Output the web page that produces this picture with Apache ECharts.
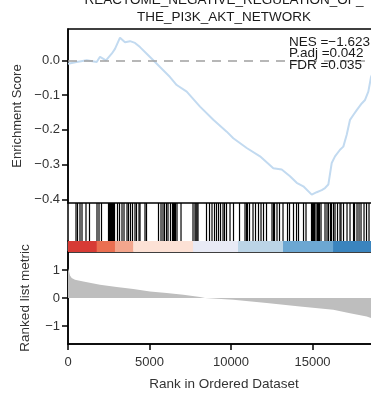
<!DOCTYPE html>
<html>
<head>
<meta charset="utf-8">
<script src="https://cdn.jsdelivr.net/npm/echarts@6/dist/echarts.min.js"></script>
<style>
  html, body { margin: 0; padding: 0; background: #fff; }
  #chart { width: 371px; height: 394px; }
</style>
</head>
<body>
<div id="chart"></div>
<script>
// 富集曲线 (rank, running enrichment score)
const esRank = [0, 534, 1147, 1761, 1963, 2331, 2681, 2883, 3190, 3497, 3804, 4110, 4417, 4828, 5233, 5644, 6258, 6669, 7283, 8098, 8914, 9736, 10141, 10963, 11779, 12595, 13110, 13620, 14031, 14436, 14951, 15258, 15565, 15767, 15970, 16178, 16380, 16687, 16890, 17098, 17301, 17503, 17712, 18018, 18221, 18424, 18589, 18835, 19140];
const esValue = [-0.01, -0.005, 0.0, -0.005, 0.01, 0.0, 0.019, 0.033, 0.065, 0.052, 0.055, 0.05, 0.038, 0.019, 0.0, -0.019, -0.048, -0.071, -0.09, -0.133, -0.171, -0.205, -0.224, -0.252, -0.276, -0.31, -0.314, -0.333, -0.352, -0.362, -0.386, -0.379, -0.373, -0.367, -0.357, -0.295, -0.276, -0.257, -0.248, -0.214, -0.171, -0.157, -0.143, -0.124, -0.114, -0.09, -0.048, -0.02, 0.0];

// 基因集命中位置
const hitRanks = [491, 583, 736, 859, 1104, 1319, 1779, 1902, 2055, 2485, 2546, 2607, 2669, 2730, 2791, 2853, 3037, 3160, 3313, 3436, 3620, 3712, 3834, 3957, 4110, 4202, 4356, 4417, 4724, 4816, 5552, 5706, 5828, 5920, 6043, 6135, 6288, 6411, 6472, 6534, 6595, 6687, 6933, 7669, 7791, 7853, 7914, 7975, 8497, 8681, 8834, 8988, 9110, 9233, 9356, 9509, 9601, 9724, 9939, 10153, 10522, 10859, 10951, 11012, 11135, 11350, 11503, 11687, 11841, 11994, 12178, 12515, 12607, 12669, 12822, 12975, 13190, 13467, 13589, 13834, 14019, 14141, 14448, 14601, 14939, 15000, 15061, 15123, 15215, 15307, 15368, 15429, 15522, 15767, 15890, 15982, 16104, 16166, 16288, 16380, 16534, 16687, 16749, 16902, 17117, 17301, 17516, 17577, 17730, 17853, 17976, 18160, 18313, 18466, 18650, 18800, 18950];

// 排序指标
const metricRank = [0, 61, 123, 227, 429, 939, 1963, 2988, 4006, 5031, 6055, 7074, 8098, 8405, 10141, 12190, 14233, 16276, 17301, 18325, 18589, 18896, 19140];
const metricValue = [1.05, 0.95, 0.8, 0.71, 0.65, 0.59, 0.475, 0.39, 0.32, 0.235, 0.18, 0.12, 0.036, 0, -0.06, -0.18, -0.3, -0.42, -0.54, -0.66, -0.71, -0.85, -1.1];

// 颜色条分段
const colorBreaks = [0, 1760, 2880, 4000, 7670, 10430, 13190, 16260, 19140];
const palette = ['#D73B35', '#EA6F51', '#F3A68D', '#FCE1D5', '#E8EAF5', '#BBD4E6', '#6CA7D2', '#3A84BE'];

const esTicks = [0, -0.1, -0.2, -0.3, -0.4];
const metricTicks = [-1, 0, 1];
const rankTicks = [0, 5000, 10000, 15000];
const xMax = 19140;

const font = 'Liberation Sans, Arial, sans-serif';
const minus = v => String(v).replace('-', '\u2212');

const chart = echarts.init(document.getElementById('chart'));

const hiddenX = idx => ({
  type: 'value', gridIndex: idx, min: 0, max: xMax,
  axisLine: { show: false, onZero: false }, axisTick: { show: false },
  axisLabel: { show: false }, splitLine: { show: false }
});

const gridBase = { left: 68, width: 312, outerBoundsMode: 'none', containLabel: false };

const option = {
  animation: false,
  title: {
    text: 'REACTOME_NEGATIVE_REGULATION_OF_\nTHE_PI3K_AKT_NETWORK',
    left: 224, top: -8, padding: 0, textAlign: 'center',
    textStyle: { fontFamily: font, fontSize: 13.5, fontWeight: 'normal', color: '#1a1a1a', lineHeight: 17 }
  },
  grid: [
    Object.assign({ top: 29, height: 174, show: true, borderColor: '#000', borderWidth: 1.5 }, gridBase),
    Object.assign({ top: 203, height: 38 }, gridBase),
    Object.assign({ top: 241, height: 11 }, gridBase),
    Object.assign({ top: 252, height: 92, show: true, borderColor: '#000', borderWidth: 1.5 }, gridBase)
  ],
  xAxis: [
    hiddenX(0), hiddenX(1), hiddenX(2),
    {
      type: 'value', gridIndex: 3, min: 0, max: xMax,
      name: 'Rank in Ordered Dataset', nameLocation: 'middle', nameGap: 33,
      nameTextStyle: { fontFamily: font, fontSize: 13.5, color: '#333' },
      axisLine: { show: true, onZero: false, lineStyle: { color: '#000', width: 1.5 } },
      axisTick: { show: true, length: 6, lineStyle: { color: '#000', width: 1.5 }, customValues: rankTicks },
      axisLabel: { fontFamily: font, fontSize: 13, color: '#333', margin: 12, customValues: rankTicks,
        formatter: v => String(v) },
      splitLine: { show: false }
    }
  ],
  yAxis: [
    {
      type: 'value', gridIndex: 0, min: -0.41, max: 0.09,
      name: 'Enrichment Score', nameLocation: 'middle', nameGap: 44,
      nameTextStyle: { fontFamily: font, fontSize: 13, color: '#333' },
      axisLine: { show: true, onZero: false, lineStyle: { color: '#000', width: 1.5 } },
      axisTick: { show: true, length: 6, lineStyle: { color: '#000', width: 1.5 }, customValues: esTicks },
      axisLabel: { fontFamily: font, fontSize: 13, color: '#333', margin: 8, customValues: esTicks,
        formatter: v => minus(v.toFixed(1)) },
      splitLine: { show: false }
    },
    {
      type: 'value', gridIndex: 1, min: 0, max: 1,
      axisLine: { show: true, onZero: false, lineStyle: { color: '#000', width: 1.5 } },
      axisTick: { show: false }, axisLabel: { show: false }, splitLine: { show: false }
    },
    {
      type: 'value', gridIndex: 2, min: 0, max: 1,
      axisLine: { show: true, onZero: false, lineStyle: { color: '#000', width: 1.5 } },
      axisTick: { show: false }, axisLabel: { show: false }, splitLine: { show: false }
    },
    {
      type: 'value', gridIndex: 3, min: -1.64, max: 1.64,
      name: 'Ranked list metric', nameLocation: 'middle', nameGap: 36,
      nameTextStyle: { fontFamily: font, fontSize: 13.5, color: '#333' },
      axisLine: { show: true, onZero: false, lineStyle: { color: '#000', width: 1.5 } },
      axisTick: { show: true, length: 6, lineStyle: { color: '#000', width: 1.5 }, customValues: metricTicks },
      axisLabel: { fontFamily: font, fontSize: 13, color: '#333', margin: 8, customValues: metricTicks,
        formatter: v => minus(v) },
      splitLine: { show: false }
    }
  ],
  graphic: [{
    type: 'text', right: 1, top: 35, z: 100,
    style: {
      text: 'NES =\u22121.623\nP.adj =0.042\nFDR =0.035',
      fontFamily: font, fontSize: 13.5, lineHeight: 11.5, fill: '#1a1a1a', align: 'right'
    }
  }],
  series: [
    {
      type: 'line', xAxisIndex: 0, yAxisIndex: 0, symbol: 'none',
      data: esRank.map((r, i) => [r, esValue[i]]),
      lineStyle: { color: '#C2DAF0', width: 2 },
      markLine: {
        silent: true, symbol: 'none', label: { show: false },
        lineStyle: { color: '#A0A0A0', width: 1.5, type: [9, 7] },
        data: [{ yAxis: 0 }]
      }
    },
    {
      type: 'custom', xAxisIndex: 1, yAxisIndex: 1,
      data: hitRanks.map(r => [r]),
      renderItem: (params, api) => {
        const cs = params.coordSys;
        const x = api.coord([api.value(0), 0])[0];
        return {
          type: 'line',
          shape: { x1: x, y1: cs.y, x2: x, y2: cs.y + cs.height },
          style: { stroke: '#000', lineWidth: 1.2 }
        };
      }
    },
    {
      type: 'custom', xAxisIndex: 2, yAxisIndex: 2,
      data: palette.map((c, i) => [colorBreaks[i], colorBreaks[i + 1]]),
      renderItem: (params, api) => {
        const cs = params.coordSys;
        const x0 = api.coord([api.value(0), 0])[0];
        const x1 = api.coord([api.value(1), 0])[0];
        return {
          type: 'rect',
          shape: { x: x0, y: cs.y, width: x1 - x0 + 0.5, height: cs.height },
          style: { fill: palette[params.dataIndex] }
        };
      }
    },
    {
      type: 'line', xAxisIndex: 3, yAxisIndex: 3, symbol: 'none',
      data: metricRank.map((r, i) => [r, metricValue[i]]),
      lineStyle: { width: 0 },
      areaStyle: { color: '#BEBEBE', opacity: 1, origin: 0 }
    }
  ]
};

chart.setOption(option);
</script>
</body>
</html>
